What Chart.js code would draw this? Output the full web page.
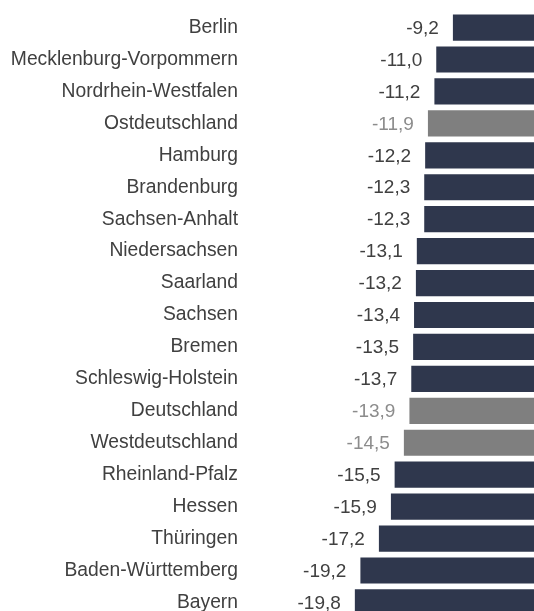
<!DOCTYPE html>
<html>
<head>
<meta charset="utf-8">
<script src="https://cdn.jsdelivr.net/npm/chart.js@4"></script>
<style>
  html,body{margin:0;padding:0;background:#fff;overflow:hidden;}
  #wrap{position:relative;width:538px;height:638px;margin-top:-4px;}
</style>
</head>
<body>
<div id="wrap"><canvas id="chart"></canvas></div>
<script>
// DATA
const regions=['Berlin','Mecklenburg-Vorpommern','Nordrhein-Westfalen','Ostdeutschland','Hamburg','Brandenburg','Sachsen-Anhalt','Niedersachsen','Saarland','Sachsen','Bremen','Schleswig-Holstein','Deutschland','Westdeutschland','Rheinland-Pfalz','Hessen','Thüringen','Baden-Württemberg','Bayern'];
const values=[-9.2,-11.0,-11.2,-11.9,-12.2,-12.3,-12.3,-13.1,-13.2,-13.4,-13.5,-13.7,-13.9,-14.5,-15.5,-15.9,-17.2,-19.2,-19.8];
const aggregates=['Ostdeutschland','Deutschland','Westdeutschland'];

const navy='#2f374d', grey='#7f7f7f';
const barColors=regions.map(r=>aggregates.includes(r)?grey:navy);
const textColors=regions.map(r=>aggregates.includes(r)?'#8c8c8c':'#404040');

//VALUE LABELS LEFT OF THE BARS
const valueLabels={
  id:'valueLabels',
  afterDatasetsDraw(chart){
    const c=chart.ctx;
    const meta=chart.getDatasetMeta(0);
    c.save();
    c.font='19px "Liberation Sans", Arial, sans-serif';
    c.textAlign='right';
    c.textBaseline='middle';
    meta.data.forEach((bar,i)=>{
      c.fillStyle=textColors[i];
      c.fillText(values[i].toFixed(1).replace('.',','),bar.x-14,bar.y+1);
    });
    c.restore();
  }
};

new Chart(document.getElementById('chart'),{
  type:'bar',
  data:{
    labels:regions,
    datasets:[{
      data:values,
      backgroundColor:barColors,
      borderWidth:0,
      barPercentage:0.82,
      categoryPercentage:1
    }]
  },
  options:{
    indexAxis:'y',
    responsive:true,
    maintainAspectRatio:false,
    animation:false,
    layout:{padding:{top:1,right:0,bottom:0,left:0}},
    plugins:{legend:{display:false},tooltip:{enabled:false}},
    scales:{
      x:{
        display:false,
        min:-32,
        max:0
      },
      y:{
        grid:{display:false,drawTicks:false},
        border:{display:false},
        afterFit(scale){scale.width=242;},
        ticks:{
          color:'#404040',
          padding:4,
          font:{family:'"Liberation Sans", Arial, sans-serif',size:19.3}
        }
      }
    }
  },
  plugins:[valueLabels]
});
</script>
</body>
</html>
